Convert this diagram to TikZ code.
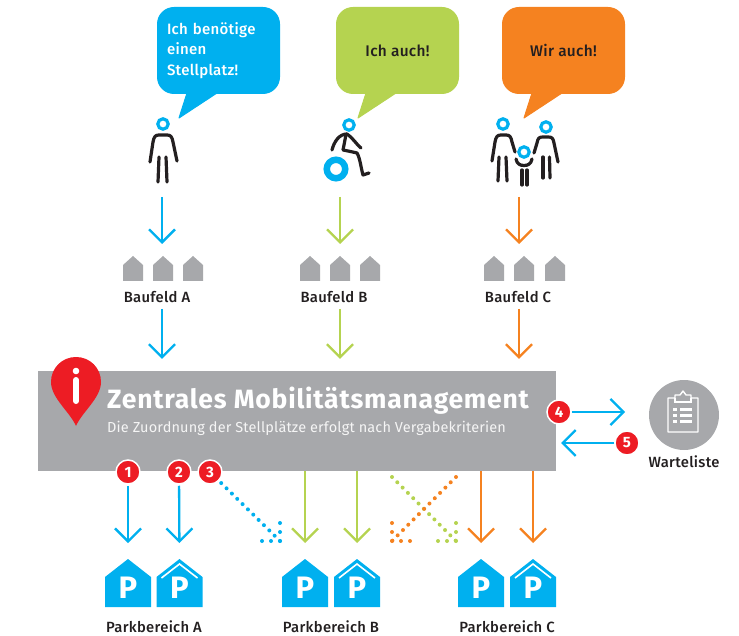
\documentclass[tikz,border=0pt]{standalone}
\usepackage{fontspec}
\setmainfont{Fira Sans}
\newfontfamily\spacedfont[LetterSpace=2.0]{Fira Sans Medium}
\newfontfamily\lightfont[LetterSpace=1.0]{Fira Sans}
\usepackage{tikz}
\usetikzlibrary{arrows.meta,calc}
\definecolor{parkblue}{HTML}{00B0EF}
\definecolor{parkgreen}{HTML}{B5D350}
\definecolor{parkorange}{HTML}{F58220}
\definecolor{parkgrey}{HTML}{A7A8AB}
\definecolor{parkred}{HTML}{ED1C24}
\definecolor{parkink}{HTML}{231F20}
\tikzset{
	flow/.style={line width=2.3pt, -{Straight Barb[length=13pt,width=26pt,line width=2.3pt]}},
	dotline/.style={line width=4pt, line cap=round, dash pattern=on 0pt off 7.5pt},
	limb/.style={line width=3.2pt, color=parkink, line cap=round, line join=round},
	head/.style={line width=3.2pt},
	bubble/.style={fill=#1, rounded corners=17pt, minimum width=123pt, minimum height=87pt, inner sep=0pt},
	badge/.style={circle, fill=parkred, draw=white, line width=1.5pt, minimum size=24pt, inner sep=0pt, text=white, font=\fontsize{15}{15}\selectfont\bfseries},
	caption/.style={text=parkink, inner sep=0pt, font=\spacedfont\fontsize{14.8}{15}\selectfont},
}
\def\tail[#1](#2,#3)(#4,#5)(#6,#7){\fill[#1, draw=#1, line join=round, line width=1pt] (#2,#3) -- (#4,#5) -- (#6,#7) -- cycle;}
\def\smallhouse(#1,#2){\fill[parkgrey] (#1-10,#2+25) -- (#1-10,#2+9) -- (#1,#2) -- (#1+10,#2+9) -- (#1+10,#2+25) -- cycle;}
\def\parkhouse(#1)(#2,#3){
	\coordinate (#1) at (#2,#3);
	\fill[parkblue] (#2-23,#3+48) -- (#2-23,#3+18) -- (#2,#3) -- (#2+23,#3+18) -- (#2+23,#3+48) -- cycle;
	\node[text=white, inner sep=0pt, font=\fontsize{31}{31}\selectfont\bfseries] (#1p) at (#2,#3+29) {P};
}
\def\chevron(#1,#2){\draw[white, line width=1.6pt] (#1-18,#2+19) -- (#1,#2+5) -- (#1+18,#2+19);}
\def\dothead[#1](#2,#3)(#4,#5)(#6,#7){\draw[dotline, color=#1, dash pattern=on 0pt off 9pt] (#2,#3) -- (#4,#5) -- (#6,#7);}

\begin{document}
\begin{tikzpicture}[x=1pt, y=-1pt]
	\useasboundingbox (0,0) rectangle (739,636);
	
	%%%%% bubbles %%%%%
	\node[bubble=parkblue, text=white, align=left, text width=103pt, font=\spacedfont\fontsize{15}{20.5}\selectfont] (bubblea) at (218.5,50.5) {Ich benötige\\einen\\Stellplatz!};
	\tail[parkblue](187,93)(179,118)(217,93);
	\node[bubble=parkgreen, text=parkink, font=\spacedfont\fontsize{15.4}{20.5}\selectfont] (bubbleb) at (397.5,50.5) {Ich auch!};
	\tail[parkgreen](366,93)(358,118)(396,93);
	\node[bubble=parkorange, text=parkink, font=\spacedfont\fontsize{15.4}{20.5}\selectfont] (bubblec) at (563.5,50.5) {Wir auch!};
	\tail[parkorange](532,93)(524,118)(562,93);
	
	%%%%% person %%%%%
	\draw[head, parkblue] (163,124) circle (5.2);
	\draw[limb] (150,162) -- (153,142) .. controls (154,137) and (155,135) .. (159,135) -- (167,135) .. controls (171,135) and (172,137) .. (173,142) -- (177,161);
	\draw[limb] (159,157) -- (158,182);
	\draw[limb] (166,157) -- (167,182);
	
	%%%%% wheelchair %%%%%
	\draw[head, parkblue] (349,125) circle (5.2);
	\draw[line width=6.5pt, parkblue] (336,169) circle (9.25);
	\draw[limb] (332,150) .. controls (334,142) and (339,134) .. (347,134) .. controls (352,137) and (357,145) .. (361,148);
	\draw[limb] (346,134) .. controls (345,140) and (344,145) .. (343,150) .. controls (348,151) and (353,152) .. (357,153) .. controls (360,158) and (361,168) .. (363,175) -- (369,173);
	
	%%%%% family %%%%%
	\draw[head, parkblue] (503,124) circle (5.2);
	\draw[head, parkblue] (546,127) circle (5.2);
	\draw[head, parkblue] (524,152) circle (5.2);
	\draw[limb] (492,161) -- (495,142) .. controls (496,137) and (497,135) .. (501,135) -- (506,135) .. controls (510,135) and (511,137) .. (512,142) -- (515,152);
	\draw[limb] (499,157) -- (498,181);
	\draw[limb] (506,157) -- (507,181);
	\draw[limb] (534,153) -- (537,143) .. controls (538,138) and (539,137) .. (543,137) -- (548,137) .. controls (552,137) and (553,138) .. (554,143) -- (558,162);
	\draw[limb] (543,157) -- (543,178);
	\draw[limb] (549.5,157) -- (550,178);
	\draw[limb] (516,159) .. controls (517,164) and (520,165.5) .. (524,165.5) .. controls (528,165.5) and (531,164) .. (532,159);
	\draw[limb] (522,170) -- (522,185);
	\draw[limb] (527,170) -- (527,185);
	
	%%%%% Baufelder %%%%%
	\smallhouse(133,256) \smallhouse(163,256) \smallhouse(193,256)
	\smallhouse(310,256) \smallhouse(340,256) \smallhouse(370,256)
	\smallhouse(494,256) \smallhouse(524,256) \smallhouse(555,256)
	\node[caption] (baufelda) at (157,297) {Baufeld A};
	\node[caption] (baufeldb) at (334,297) {Baufeld B};
	\node[caption] (baufeldc) at (518,297) {Baufeld C};
	
	\coordinate (persona) at (162,197);
	\coordinate (personb) at (340,197);
	\coordinate (personc) at (519,197);
	\coordinate (fielda) at (162,244);
	\coordinate (fieldb) at (340,244);
	\coordinate (fieldc) at (519,244);
	\draw[flow, parkblue] (persona) -- (fielda);
	\draw[flow, parkgreen] (personb) -- (fieldb);
	\draw[flow, parkorange] (personc) -- (fieldc);
	
	%%%%% Zentrale %%%%%
	\node[fill=parkgrey, minimum width=518pt, minimum height=100pt, inner sep=0pt] (zentrale) at (297,421) {};
	\draw[flow, parkblue, shorten <=6pt, shorten >=12pt] (fielda |- baufelda.south) -- (fielda |- zentrale.north);
	\draw[flow, parkgreen, shorten <=6pt, shorten >=12pt] (fieldb |- baufeldb.south) -- (fieldb |- zentrale.north);
	\draw[flow, parkorange, shorten <=6pt, shorten >=12pt] (fieldc |- baufeldc.south) -- (fieldc |- zentrale.north);
	
	\fill[parkred] (76,426) .. controls (70,412) and (51,398) .. (51,382) .. controls (51,368) and (62,357) .. (76,357) .. controls (90,357) and (101,368) .. (101,382) .. controls (101,398) and (82,412) .. (76,426) -- cycle;
	\fill[white] (76,371) circle (3.3);
	\draw[white, line width=6pt, line cap=round] (76,380) -- (76,401);
	
	\node[anchor=west, text=white, inner sep=0pt, font=\fontsize{26.5}{27}\selectfont\addfontfeature{LetterSpace=3.0}\bfseries] (titel) at (107,401) {Zentrales Mobilitätsmanagement};
	\node[anchor=west, text=white!88!parkgrey, inner sep=0pt, font=\lightfont\fontsize{14.5}{15}\selectfont] (untertitel) at (107,428) {Die Zuordnung der Stellplätze erfolgt nach Vergabekriterien};
	
	%%%%% Warteliste %%%%%
	\node[circle, fill=parkgrey, minimum size=70pt, inner sep=0pt] (warteliste) at (684,415) {};
	\node[caption] (wartetext) at (684,462) {Warteliste};
	\draw[white, line width=1.4pt, line join=round] (668,432) -- (668,398) -- (675,398) -- (675,395) -- (680,395) -- (683,391) -- (686,395) -- (691,395) -- (691,398) -- (698,398) -- (698,432) -- cycle;
	\draw[white, line width=1.4pt] (675,398) -- (675,402) -- (691,402) -- (691,398);
	\foreach \y in {409,415,421}{
		\fill[white] (673,\y-1.5) rectangle (677,\y+1.5);
		\fill[white] (680,\y-1.5) rectangle (692,\y+1.5);
	}
	
	\node[badge] (badgefour) at (559,412) {4};
	\node[badge] (badgefive) at (627,443) {5};
	\coordinate (tipfour) at (625,412);
	\coordinate (tipfive) at (561,443);
	\draw[flow, parkblue] (badgefour) -- (tipfour);
	\draw[flow, parkblue] (badgefive) -- (tipfive);
	
	%%%%% Parkbereiche %%%%%
	\parkhouse(parkaa)(128,559)
	\parkhouse(parkab)(179.5,559) \chevron(179.5,559)
	\parkhouse(parkba)(305,559)
	\parkhouse(parkbb)(357,559) \chevron(357,559)
	\parkhouse(parkca)(481,559)
	\parkhouse(parkcb)(533,559) \chevron(533,559)
	\node[caption] (bereicha) at (154,627) {Parkbereich A};
	\node[caption] (bereichb) at (331,627) {Parkbereich B};
	\node[caption] (bereichc) at (507,627) {Parkbereich C};
	
	\draw[flow, parkgreen, shorten >=16pt] (zentrale.south -| parkba) -- (parkba);
	\draw[flow, parkgreen, shorten >=16pt] (zentrale.south -| parkbb) -- (parkbb);
	\draw[flow, parkorange, shorten >=16pt] (zentrale.south -| parkca) -- (parkca);
	\draw[flow, parkorange, shorten >=16pt] (zentrale.south -| parkcb) -- (parkcb);
	
	\node[badge] (badgeone) at (128,472) {1};
	\node[badge] (badgetwo) at (179,472) {2};
	\node[badge] (badgethree) at (210,472) {3};
	\draw[flow, parkblue, shorten <=1pt, shorten >=16pt] (badgeone) -- (parkaa);
	\draw[flow, parkblue, shorten <=1pt, shorten >=16pt] (badgetwo) -- (parkab);
	
	%%%%% dotted %%%%%
	\coordinate (tipthree) at (280,541);
	\draw[dotline, parkblue, shorten <=3pt] (badgethree) -- (tipthree);
	\dothead[parkblue](280,523)(280,541)(262,541)
	\draw[dotline, parkgreen] (392,477) -- (456,541);
	\dothead[parkgreen](456,523)(456,541)(438,541)
	\draw[dotline, parkorange] (456,477) -- (392,541);
	\dothead[parkorange](392,523)(392,541)(410,541)
\end{tikzpicture}
\end{document}
